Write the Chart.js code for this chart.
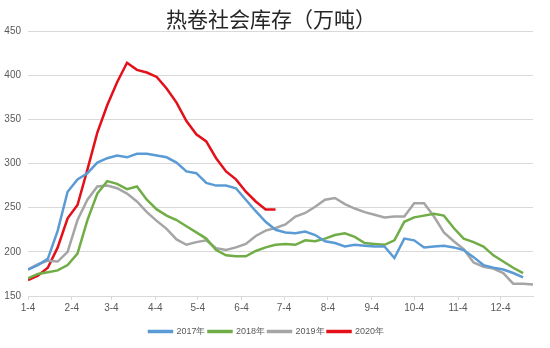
<!DOCTYPE html>
<html>
<head>
<meta charset="utf-8">
<script src="https://cdn.jsdelivr.net/npm/chart.js@4"></script>
<style>
  html, body { margin: 0; padding: 0; background: #fff; }
  #wrap { width: 550px; height: 348px; }
</style>
</head>
<body>
<div id="wrap"><canvas id="stock" width="550" height="348"></canvas></div>
<script>
// weekly readings, first point on Jan 4 (day of year)
const weekDays = Array.from({ length: 52 }, (_, i) => 4 + 7 * i);

const tickDays = [4, 35, 63, 94, 124, 155, 185, 216, 247, 277, 308, 338];
const tickLabels = ['1-4', '2-4', '3-4', '4-4', '5-4', '6-4', '7-4', '8-4', '9-4', '10-4', '11-4', '12-4'];

const years = ['2017年', '2018年', '2019年', '2020年'];

const s2017 = [180, 185, 192, 224, 268, 282, 289, 301, 306, 309, 307, 311, 311, 309, 307, 301,
    291, 289, 278, 275, 275, 272, 259, 246, 234, 225, 222, 221, 223, 219, 212, 210, 206, 208,
    207, 206, 206, 193, 215, 213, 205, 206, 207, 205, 202, 194, 185, 182, 180, 176, 171];
const s2018 = [170, 175, 177, 179, 185, 198, 236, 266, 280, 277, 271, 274, 259, 248, 241, 236,
    229, 222, 215, 202, 196, 195, 195, 201, 205, 208, 209, 208, 213, 212, 215, 219, 221, 217,
    210, 209, 208, 213, 234, 239, 241, 243, 241, 227, 215, 211, 206, 196, 189, 182, 176];
const s2019 = [180, 186, 190, 189, 200, 236, 259, 274, 275, 272, 266, 257, 245, 235, 226, 214,
    208, 211, 213, 204, 202, 205, 209, 218, 224, 227, 231, 240, 244, 251, 259, 261, 254, 249,
    245, 242, 239, 240, 240, 255, 255, 240, 222, 212, 203, 188, 183, 181, 176, 164, 164, 163];
const s2020 = [168, 173, 182, 205, 238, 253, 293, 335, 366, 392, 414, 406, 403, 398, 385, 369,
    348, 333, 325, 306, 291, 282, 268, 257, 248, 248];

const colors = ['#5b9bd5', '#70ad47', '#a5a5a5', '#e3101a'];

function toPoints(vals) {
    return vals.map((v, i) => ({ x: weekDays[i], y: v }));
}

const titlePlugin = {
    id: 'topTitle',
    afterDraw(chart) {
        const c = chart.ctx;
        c.save();
        c.font = '21px "Noto Sans CJK SC"';
        c.fillStyle = '#262626';
        c.textAlign = 'center';
        c.textBaseline = 'middle';
        c.fillText('热卷社会库存（万吨）', 271, 19);
        c.restore();
    }
};

const ctx = document.getElementById('stock').getContext('2d');
new Chart(ctx, {
    type: 'line',
    data: {
        datasets: [s2017, s2018, s2019, s2020].map((s, k) => ({
            label: years[k],
            data: toPoints(s),
            borderColor: colors[k],
            backgroundColor: colors[k],
            borderWidth: 2.5,
            pointRadius: 0,
            tension: 0,
            fill: false
        }))
    },
    options: {
        responsive: false,
        animation: false,
        layout: { padding: { top: 31, right: 17, left: 0, bottom: 2 } },
        plugins: {
            tooltip: { enabled: false },
            title: { display: false },
            legend: {
                position: 'bottom',
                labels: {
                    boxWidth: 23,
                    boxHeight: 1,
                    padding: 3,
                    color: '#595959',
                    font: { size: 9, family: 'Liberation Sans' }
                }
            }
        },
        scales: {
            x: {
                type: 'linear',
                min: 4,
                max: 361,
                afterBuildTicks: (scale) => {
                    scale.ticks = tickDays.map(v => ({ value: v }));
                },
                afterFit: (scale) => { scale.height = 28; },
                grid: { drawOnChartArea: false, drawTicks: true, tickLength: 4, color: '#d9d9d9' },
                border: { color: '#d9d9d9' },
                ticks: {
                    autoSkip: false,
                    maxRotation: 0,
                    padding: 2,
                    color: '#595959',
                    font: { size: 10, family: 'Liberation Sans' },
                    callback: (v) => tickLabels[tickDays.indexOf(v)]
                }
            },
            y: {
                min: 150,
                max: 450,
                afterFit: (scale) => { scale.width = 28; },
                grid: { color: '#d9d9d9', drawTicks: false },
                border: { display: false },
                ticks: {
                    stepSize: 50,
                    padding: 7,
                    color: '#595959',
                    font: { size: 10, family: 'Liberation Sans' }
                }
            }
        }
    },
    plugins: [titlePlugin]
});
</script>
</body>
</html>
